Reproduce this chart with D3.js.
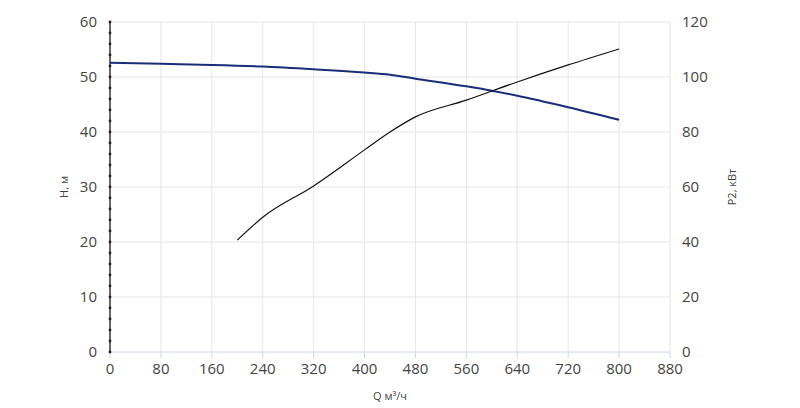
<!DOCTYPE html><html><head><meta charset="utf-8"><script src="https://d3js.org/d3.v7.min.js"></script>
<style>body{margin:0;background:#fff}text{font-family:"Open Sans",sans-serif}</style></head><body><svg id="c" width="800" height="408"></svg><script>
const xTicks=[0,80,160,240,320,400,480,560,640,720,800,880];
const hTicks=[0,10,20,30,40,50,60];
const pTicks=[0,20,40,60,80,100,120];
const hQ=[0,80,160,240,320,400,440,480,560,600,640,720,800];
const hV=[52.6,52.4,52.2,51.9,51.4,50.8,50.4,49.7,48.3,47.5,46.6,44.5,42.2];
const pQ=[200,240,320,400,440,480,560,640,720,800];
const pV=[40.7,49,60.4,73.5,80,85.5,91.6,98.2,104.4,110.2];
const svg=d3.select("#c");
const x=d3.scaleLinear().domain([0,880]).range([110,670]);
const y=d3.scaleLinear().domain([0,60]).range([352,22]);
const y2=d3.scaleLinear().domain([0,120]).range([352,22]);
const g=svg.append("g");
xTicks.forEach(t=>{if(t>0)g.append("line").attr("x1",x(t)).attr("x2",x(t)).attr("y1",22).attr("y2",352).attr("stroke","#e6e6e6");});
hTicks.forEach(t=>{if(t>0)g.append("line").attr("x1",110).attr("x2",670).attr("y1",y(t)).attr("y2",y(t)).attr("stroke","#e6e6e6");});
svg.append("line").attr("x1",110).attr("x2",670).attr("y1",352).attr("y2",352).attr("stroke","#ccd6eb");
xTicks.forEach(t=>svg.append("line").attr("x1",x(t)).attr("x2",x(t)).attr("y1",352).attr("y2",358).attr("stroke","#ccd6eb"));
svg.append("line").attr("x1",110).attr("x2",110).attr("y1",22).attr("y2",352).attr("stroke","#333").attr("stroke-width",1.5);
d3.range(0,61,2).forEach(v=>svg.append("circle").attr("cx",110).attr("cy",y(v)).attr("r",1.4).attr("fill","#222"));
const tc="#444";
xTicks.forEach(t=>svg.append("text").attr("x",x(t)).attr("y",374).attr("text-anchor","middle").attr("font-size",15).attr("fill",tc).text(t));
hTicks.forEach(t=>svg.append("text").attr("x",97).attr("y",y(t)+5).attr("text-anchor","end").attr("font-size",15).attr("fill",tc).text(t));
pTicks.forEach(t=>svg.append("text").attr("x",682).attr("y",y2(t)+5).attr("text-anchor","start").attr("font-size",15).attr("fill",tc).text(t));
svg.append("text").attr("transform","translate(68,187) rotate(-90)").attr("text-anchor","middle").attr("font-size",11).attr("fill",tc).text("H, м");
svg.append("text").attr("transform","translate(736,187) rotate(-90)").attr("text-anchor","middle").attr("font-size",11).attr("fill",tc).text("P2, кВт");
svg.append("text").attr("x",390).attr("y",400).attr("text-anchor","middle").attr("font-size",11).attr("fill",tc).text("Q м³/ч");
const lh=d3.line().x((d,i)=>x(hQ[i])).y(d=>y(d)).curve(d3.curveMonotoneX);
svg.append("path").attr("d",lh(hV)).attr("fill","none").attr("stroke","#1a2e78").attr("stroke-width",2);
const lp=d3.line().x((d,i)=>x(pQ[i])).y(d=>y2(d)).curve(d3.curveMonotoneX);
svg.append("path").attr("d",lp(pV)).attr("fill","none").attr("stroke","#111").attr("stroke-width",1.2);
</script></body></html>
